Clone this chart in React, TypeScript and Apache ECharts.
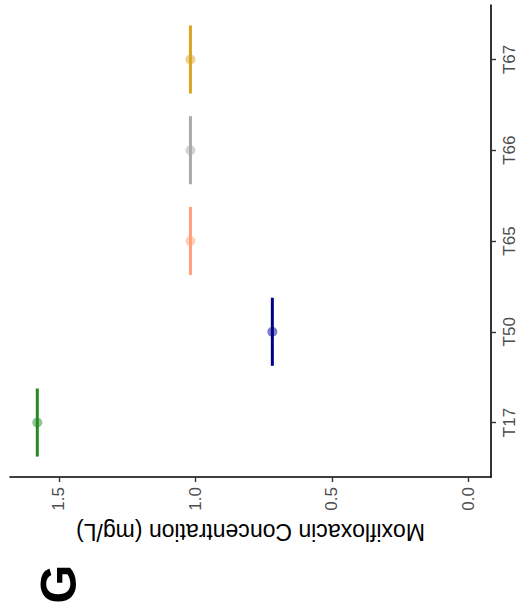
import React, { useEffect, useRef } from "react";
import * as echarts from "echarts";

const categories = ["T17", "T50", "T65", "T66", "T67"];
const concentrations = [1.579, 0.718, 1.018, 1.018, 1.018];
const valueTicks = [0, 0.5, 1.0, 1.5];
const panelLabel = "G";
const axisTitle = "Moxifloxacin Concentration (mg/L)";

const colors = ["#228B22", "#00008B", "#FFA07A", "#A9A9A9", "#DAA520"];
const FONT = "Liberation Sans, Arial, Helvetica, sans-serif";

export default function App() {
  const ref = useRef<HTMLDivElement>(null);
  useEffect(() => {
    if (!ref.current) return;
    const chart = echarts.init(ref.current, null, { renderer: "svg" });
    const pts = categories.map((c, i) => [concentrations[i], i]);
    chart.setOption({
      animation: false,
      backgroundColor: "#ffffff",
      textStyle: { fontFamily: FONT },
      grid: { left: 10, right: 32, top: 5, bottom: 139, containLabel: false },
      xAxis: {
        type: "value",
        inverse: true,
        min: -0.083,
        max: 1.679,
        position: "bottom",
        name: axisTitle,
        nameLocation: "middle",
        nameRotate: 180,
        nameGap: 43,
        nameTextStyle: { color: "#000000", fontSize: 23, fontFamily: FONT },
        axisLine: { show: true, onZero: false, lineStyle: { color: "#000000", width: 1.6 } },
        axisTick: { show: true, length: 5, lineStyle: { color: "#333333", width: 1.4 }, customValues: valueTicks },
        axisLabel: {
          show: true,
          rotate: 90,
          margin: 10,
          color: "#4D4D4D",
          fontSize: 17,
          fontFamily: FONT,
          customValues: valueTicks,
          formatter: (v: number) => v.toFixed(1),
        },
        splitLine: { show: false },
      },
      yAxis: {
        type: "value",
        min: -0.6,
        max: categories.length - 0.4,
        position: "right",
        axisLine: { show: true, onZero: false, lineStyle: { color: "#000000", width: 1.6 } },
        axisTick: { show: true, length: 5, lineStyle: { color: "#333333", width: 1.4 }, customValues: categories.map((c, i) => i) },
        axisLabel: {
          show: true,
          rotate: 90,
          margin: 10,
          color: "#4D4D4D",
          fontSize: 17,
          fontFamily: FONT,
          customValues: categories.map((c, i) => i),
          formatter: (v: number) => categories[Math.round(v)] ?? "",
        },
        splitLine: { show: false },
      },
      series: [
        {
          type: "custom",
          data: pts,
          z: 2,
          renderItem: (params: any, api: any) => {
            const v = api.value(0);
            const i = api.value(1);
            const p1 = api.coord([v, i - 0.375]);
            const p2 = api.coord([v, i + 0.375]);
            return {
              type: "line",
              shape: { x1: p1[0], y1: p1[1], x2: p2[0], y2: p2[1] },
              style: { stroke: colors[params.dataIndex], lineWidth: 3 },
            };
          },
        },
        {
          type: "scatter",
          z: 3,
          symbolSize: 10,
          data: pts.map((p, i) => ({ value: p, itemStyle: { color: colors[i], opacity: 0.5 } })),
        },
      ],
      graphic: [
        {
          type: "text",
          x: 59,
          y: 584,
          rotation: Math.PI / 2,
          style: {
            text: panelLabel,
            fontSize: 50,
            fontWeight: "bold",
            fontFamily: FONT,
            fill: "#000000",
            align: "center",
            verticalAlign: "middle",
          },
        },
      ],
    });
    return () => chart.dispose();
  }, []);
  return (
    <div
      ref={ref}
      style={{ position: "fixed", left: 0, top: 0, width: 523, height: 616, background: "#fff" }}
    />
  );
}
